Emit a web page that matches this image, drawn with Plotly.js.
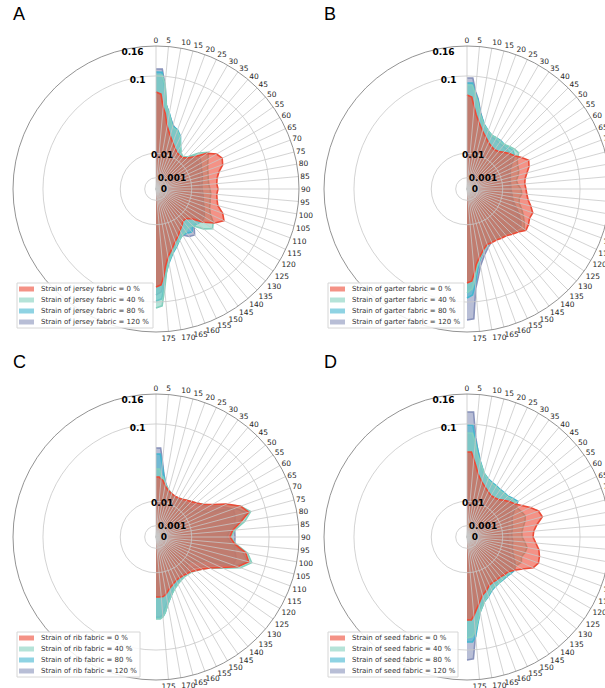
<!DOCTYPE html>
<html>
<head>
<meta charset="utf-8">
<script src="https://cdn.plot.ly/plotly-3.0.1.min.js"></script>
<style>
html,body{margin:0;padding:0;overflow:hidden;background:#fff}
#chart{width:620px;height:688px}
</style>
</head>
<body>
<div id="chart"></div>
<script>
// Orientation angles (degrees) at which the strain values were read
const angles = [0,3,5,7,10,15,20,25,30,35,40,45,50,55,60,65,70,75,80,85,90,95,100,105,110,115,120,125,130,135,140,145,150,155,160,165,170,173,175,177,180];

const angleTickValues = [0,5,10,15,20,25,30,35,40,45,50,55,60,65,70,75,80,85,90,95,100,105,110,115,120,125,130,135,140,145,150,155,160,165,170,175];
const angleTickLabels = ['0','5','10','15','20','25','30','35','40','45','50','55','60','65','70','75','80','85','90','95','100','105','110','115','120','125','130','135','140','145','150','155','160','165','170','175'];

const radialTickValues = [0, 0.001, 0.01, 0.1, 0.16];
const radialTickLabels = ['0', '0.001', '0.01', '0.1', '0.16'];
const radialMax = 0.16;

const fabrics = ['jersey', 'garter', 'rib', 'seed'];
const strainLevels = ['0', '40', '80', '120'];
const panelLetters = ['A', 'B', 'C', 'D'];

// Panel A – jersey
const jersey0   = [0.0736,0.0706,0.0526,0.0452,0.0320,0.0237,0.0188,0.0158,0.0138,0.0132,0.0132,0.0151,0.0196,0.0301,0.0383,0.0417,0.0394,0.0331,0.0301,0.0291,0.0301,0.0291,0.0301,0.0320,0.0394,0.0440,0.0362,0.0263,0.0166,0.0138,0.0138,0.0158,0.0180,0.0212,0.0245,0.0301,0.0373,0.0476,0.0606,0.0721,0.0751];
const jersey40  = [0.1017,0.1017,0.0863,0.0552,0.0452,0.0320,0.0301,0.0254,0.0188,0.0151,0.0138,0.0166,0.0245,0.0320,0.0282,0.0254,0.0237,0.0228,0.0220,0.0220,0.0228,0.0237,0.0237,0.0245,0.0254,0.0282,0.0341,0.0373,0.0301,0.0212,0.0196,0.0212,0.0220,0.0245,0.0282,0.0331,0.0428,0.0565,0.0782,0.1071,0.1108];
const jersey80  = [0.1071,0.1071,0.0782,0.0552,0.0464,0.0331,0.0311,0.0263,0.0188,0.0145,0.0132,0.0158,0.0212,0.0228,0.0212,0.0196,0.0188,0.0180,0.0173,0.0166,0.0166,0.0173,0.0180,0.0188,0.0204,0.0220,0.0245,0.0245,0.0228,0.0212,0.0245,0.0228,0.0220,0.0245,0.0291,0.0341,0.0440,0.0552,0.0721,0.0947,0.0981];
const jersey120 = [0.1127,0.1127,0.0846,0.0565,0.0452,0.0341,0.0301,0.0254,0.0180,0.0138,0.0125,0.0145,0.0180,0.0196,0.0188,0.0173,0.0166,0.0158,0.0151,0.0151,0.0151,0.0158,0.0166,0.0173,0.0188,0.0204,0.0220,0.0220,0.0212,0.0228,0.0282,0.0263,0.0220,0.0237,0.0272,0.0320,0.0417,0.0526,0.0662,0.0830,0.0879];

// Panel B – garter
const garter0   = [0.0691,0.0662,0.0526,0.0440,0.0362,0.0282,0.0237,0.0204,0.0188,0.0180,0.0188,0.0212,0.0237,0.0263,0.0311,0.0362,0.0341,0.0301,0.0272,0.0263,0.0272,0.0282,0.0301,0.0341,0.0383,0.0373,0.0394,0.0406,0.0351,0.0320,0.0291,0.0282,0.0272,0.0272,0.0272,0.0311,0.0383,0.0452,0.0552,0.0662,0.0691];
const garter40  = [0.0846,0.0846,0.0706,0.0606,0.0452,0.0341,0.0301,0.0272,0.0272,0.0263,0.0263,0.0282,0.0301,0.0311,0.0263,0.0245,0.0237,0.0220,0.0196,0.0204,0.0228,0.0237,0.0220,0.0228,0.0263,0.0301,0.0341,0.0383,0.0341,0.0301,0.0282,0.0272,0.0263,0.0263,0.0282,0.0320,0.0406,0.0501,0.0634,0.0782,0.0846];
const garter80  = [0.0879,0.0879,0.0721,0.0634,0.0464,0.0351,0.0301,0.0272,0.0272,0.0272,0.0263,0.0272,0.0282,0.0263,0.0212,0.0180,0.0166,0.0158,0.0151,0.0151,0.0151,0.0158,0.0166,0.0180,0.0212,0.0254,0.0301,0.0341,0.0320,0.0291,0.0272,0.0263,0.0254,0.0254,0.0272,0.0320,0.0417,0.0552,0.0721,0.0879,0.0930];
const garter120 = [0.0964,0.0964,0.0751,0.0648,0.0476,0.0341,0.0291,0.0263,0.0254,0.0245,0.0245,0.0245,0.0245,0.0220,0.0180,0.0158,0.0151,0.0145,0.0145,0.0145,0.0145,0.0151,0.0158,0.0173,0.0196,0.0237,0.0282,0.0311,0.0301,0.0282,0.0263,0.0254,0.0254,0.0263,0.0301,0.0362,0.0476,0.0634,0.0782,0.1322,0.1343];

// Panel C – rib
const rib0   = [0.0282,0.0282,0.0263,0.0254,0.0212,0.0180,0.0166,0.0158,0.0158,0.0166,0.0180,0.0196,0.0220,0.0254,0.0331,0.0476,0.0634,0.0721,0.0579,0.0464,0.0428,0.0488,0.0648,0.0721,0.0592,0.0406,0.0301,0.0245,0.0212,0.0188,0.0180,0.0173,0.0173,0.0180,0.0196,0.0220,0.0263,0.0282,0.0282,0.0282,0.0282];
const rib40  = [0.0362,0.0362,0.0301,0.0282,0.0228,0.0188,0.0166,0.0158,0.0158,0.0166,0.0180,0.0196,0.0220,0.0254,0.0320,0.0464,0.0634,0.0751,0.0634,0.0488,0.0440,0.0501,0.0677,0.0767,0.0634,0.0428,0.0301,0.0245,0.0212,0.0196,0.0188,0.0188,0.0196,0.0212,0.0237,0.0282,0.0362,0.0452,0.0501,0.0526,0.0526];
const rib80  = [0.0539,0.0539,0.0406,0.0311,0.0228,0.0173,0.0151,0.0145,0.0145,0.0145,0.0151,0.0151,0.0151,0.0158,0.0212,0.0282,0.0552,0.0691,0.0552,0.0428,0.0394,0.0452,0.0606,0.0706,0.0552,0.0245,0.0196,0.0138,0.0138,0.0145,0.0158,0.0166,0.0180,0.0196,0.0228,0.0282,0.0362,0.0452,0.0501,0.0513,0.0513];
const rib120 = [0.0620,0.0620,0.0440,0.0320,0.0237,0.0180,0.0158,0.0151,0.0151,0.0158,0.0166,0.0173,0.0196,0.0237,0.0301,0.0406,0.0526,0.0526,0.0501,0.0488,0.0488,0.0488,0.0501,0.0539,0.0526,0.0362,0.0263,0.0212,0.0180,0.0173,0.0173,0.0180,0.0188,0.0204,0.0228,0.0272,0.0341,0.0406,0.0476,0.0501,0.0501];

// Panel D – seed
const seed0   = [0.0565,0.0565,0.0476,0.0406,0.0320,0.0254,0.0220,0.0196,0.0180,0.0180,0.0188,0.0212,0.0237,0.0263,0.0311,0.0383,0.0452,0.0476,0.0394,0.0351,0.0341,0.0373,0.0417,0.0440,0.0452,0.0417,0.0320,0.0263,0.0228,0.0220,0.0212,0.0212,0.0212,0.0220,0.0254,0.0282,0.0362,0.0428,0.0488,0.0539,0.0539];
const seed40  = [0.0846,0.0846,0.0706,0.0552,0.0452,0.0341,0.0291,0.0272,0.0263,0.0254,0.0254,0.0254,0.0272,0.0282,0.0263,0.0282,0.0301,0.0282,0.0254,0.0237,0.0237,0.0263,0.0291,0.0282,0.0263,0.0282,0.0254,0.0245,0.0245,0.0237,0.0237,0.0245,0.0245,0.0263,0.0301,0.0351,0.0452,0.0579,0.0706,0.0782,0.0798];
const seed80  = [0.0981,0.0981,0.0736,0.0606,0.0464,0.0341,0.0301,0.0282,0.0272,0.0263,0.0263,0.0263,0.0282,0.0301,0.0237,0.0196,0.0180,0.0173,0.0166,0.0158,0.0158,0.0166,0.0166,0.0173,0.0188,0.0212,0.0245,0.0263,0.0254,0.0245,0.0245,0.0245,0.0254,0.0272,0.0311,0.0351,0.0452,0.0606,0.0782,0.0863,0.0863];
const seed120 = [0.1223,0.1223,0.0782,0.0606,0.0452,0.0331,0.0291,0.0272,0.0263,0.0254,0.0254,0.0254,0.0263,0.0245,0.0196,0.0158,0.0145,0.0138,0.0132,0.0132,0.0132,0.0132,0.0138,0.0145,0.0158,0.0180,0.0212,0.0237,0.0237,0.0237,0.0237,0.0237,0.0245,0.0263,0.0301,0.0341,0.0440,0.0579,0.0751,0.1165,0.1184];

const panelSeries = [
  [jersey0, jersey40, jersey80, jersey120],
  [garter0, garter40, garter80, garter120],
  [rib0, rib40, rib80, rib120],
  [seed0, seed40, seed80, seed120]
];

const lineColors = ['rgb(236,74,54)', 'rgb(132,208,190)', 'rgb(68,182,208)', 'rgb(137,147,187)'];
const fillColors = ['rgba(236,74,54,0.6)', 'rgba(132,208,190,0.6)', 'rgba(68,182,208,0.6)', 'rgba(137,147,187,0.6)'];

// Radial axis uses a square-root scale
const sq = v => Math.sqrt(v);

const W = 620, H = 688;
const fx = v => v / W;
const fy = v => 1 - v / H;
const domains = [
  {x: [fx(13), fx(299)], y: [fy(332), fy(46)]},
  {x: [fx(324), fx(610)], y: [fy(332), fy(46)]},
  {x: [fx(13), fx(299)], y: [fy(680), fy(394)]},
  {x: [fx(324), fx(610)], y: [fy(680), fy(394)]}
];

// legend boxes (pixel positions of the frame)
const legendBoxes = [
  {x0: 17, y0: 283, x1: 153, y1: 328},
  {x0: 328, y0: 283, x1: 464, y1: 328},
  {x0: 17, y0: 632, x1: 140, y1: 677},
  {x0: 328, y0: 632, x1: 458, y1: 677}
];
const letterPos = [
  {x: 19, y: 14}, {x: 330, y: 14}, {x: 19, y: 362}, {x: 330, y: 362}
];

const traces = [];
const layout = {
  width: W, height: H,
  margin: {l: 0, r: 0, t: 0, b: 0},
  paper_bgcolor: '#fff',
  showlegend: false,
  font: {family: 'DejaVu Sans', color: '#262626'},
  annotations: [],
  shapes: []
};

for (let p = 0; p < 4; p++) {
  const baseId = p === 0 ? 'polar' : 'polar' + (p + 1);
  const overId = 'polar' + (p + 5);

  // draw 120 % first, 0 % last (on top)
  for (let s = 3; s >= 0; s--) {
    traces.push({
      type: 'scatterpolar',
      subplot: baseId,
      r: panelSeries[p][s].map(sq),
      theta: angles,
      mode: 'lines',
      fill: 'toself',
      fillcolor: fillColors[s],
      line: {color: lineColors[s], width: 1.6},
      name: 'Strain of ' + fabrics[p] + ' fabric = ' + strainLevels[s] + ' %',
      hoverinfo: 'skip'
    });
  }
  // overlay subplot for grid + labels (drawn above fills)
  traces.push({type: 'scatterpolar', subplot: overId, r: [], theta: [], hoverinfo: 'skip'});

  layout[baseId] = {
    domain: domains[p],
    bgcolor: 'rgba(0,0,0,0)',
    radialaxis: {range: [0, sq(radialMax)], visible: false},
    angularaxis: {rotation: 90, direction: 'clockwise', visible: false}
  };
  layout[overId] = {
    domain: domains[p],
    bgcolor: 'rgba(0,0,0,0)',
    radialaxis: {
      range: [0, sq(radialMax)],
      angle: 106,
      side: 'clockwise',
      tickangle: 106,
      tickvals: radialTickValues.map(sq),
      ticktext: radialTickLabels,
      ticks: '',
      showline: false,
      tickfont: {family: 'DejaVu Sans', size: 9, color: '#000', weight: 'bold'},
      gridcolor: '#c8c8c8',
      gridwidth: 0.8
    },
    angularaxis: {
      rotation: 90,
      direction: 'clockwise',
      tickvals: angleTickValues,
      ticktext: angleTickLabels,
      ticks: '',
      tickfont: {family: 'DejaVu Sans', size: 7.5, color: '#262626'},
      gridcolor: '#c8c8c8',
      gridwidth: 0.8,
      showline: true,
      linecolor: '#777',
      linewidth: 0.8
    }
  };

  // legend frame, swatches and labels
  const b = legendBoxes[p];
  layout.shapes.push({
    type: 'rect', xref: 'paper', yref: 'paper',
    x0: fx(b.x0), x1: fx(b.x1), y0: fy(b.y1), y1: fy(b.y0),
    fillcolor: 'rgba(255,255,255,0.85)',
    line: {color: '#d6d6d6', width: 1}
  });
  for (let s = 0; s < 4; s++) {
    const cy = b.y0 + 6 + s * 11;
    layout.shapes.push({
      type: 'rect', xref: 'paper', yref: 'paper',
      x0: fx(b.x0 + 2), x1: fx(b.x0 + 17), y0: fy(cy + 2.5), y1: fy(cy - 2.5),
      fillcolor: fillColors[s],
      line: {width: 0}
    });
    layout.annotations.push({
      xref: 'paper', yref: 'paper',
      x: fx(b.x0 + 22), y: fy(cy),
      xanchor: 'left', yanchor: 'middle',
      text: 'Strain of ' + fabrics[p] + ' fabric = ' + strainLevels[s] + ' %',
      showarrow: false,
      font: {family: 'DejaVu Sans', size: 7, color: '#333'}
    });
  }

  layout.annotations.push({
    xref: 'paper', yref: 'paper',
    x: fx(letterPos[p].x), y: fy(letterPos[p].y),
    xanchor: 'center', yanchor: 'middle',
    text: panelLetters[p],
    showarrow: false,
    font: {family: 'Liberation Sans', size: 18, color: '#000'}
  });
}

Plotly.newPlot('chart', traces, layout, {staticPlot: true});
</script>
</body>
</html>
